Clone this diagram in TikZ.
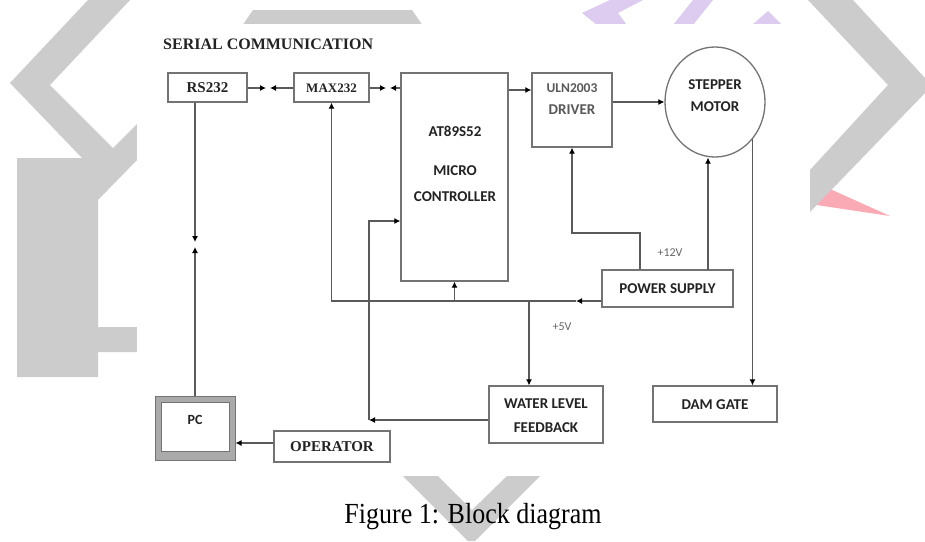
\documentclass[tikz,border=0pt]{standalone}
\usepackage{fontspec}
\setmainfont{Liberation Serif}
\newfontfamily\tms{Liberation Serif}
\newfontfamily\calib{Carlito}
\usetikzlibrary{arrows.meta,shapes.geometric,calc}
\definecolor{wm}{RGB}{204,204,204}
\definecolor{wmp}{RGB}{221,204,240}
\definecolor{wmr}{RGB}{250,170,180}
\definecolor{boxc}{RGB}{115,115,115}
\definecolor{lnc}{RGB}{90,90,90}
\definecolor{txt}{RGB}{35,35,35}
\definecolor{pcband}{RGB}{170,170,170}
\tikzset{
  blk/.style={draw=boxc, line width=1.3pt, fill=white, inner sep=0pt},
  ln/.style={draw=lnc, line width=1.1pt},
  arr/.style={ln, -{Latex[length=6pt,width=6pt,color=black]}},
  sflab/.style={font=\calib\bfseries\fontsize{15}{18}\selectfont, text=txt, inner sep=0pt},
  rmlab/.style={font=\tms\bfseries\fontsize{15}{18}\selectfont, text=txt, inner sep=0pt},
  vlab/.style={font=\calib\fontsize{12}{14}\selectfont, text=black!60, inner sep=0pt},
}
\begin{document}
\begin{tikzpicture}[x=1pt,y=-1pt]
\useasboundingbox (0,0) rectangle (925,541);
\fill[white] (0,0) rectangle (925,541);
% ---- watermark ----
\fill[wmr] (810,180) -- (890,216) -- (810,204) -- cycle;
\fill[wm] (88,0) -- (130,0) -- (50,85) -- (113,148) -- (137,124) -- (137,160) -- (98,200)
  -- (98,327) -- (137,327) -- (137,352) -- (98,352) -- (98,377) -- (17,377) -- (17,158)
  -- (82,158) -- (10,83) -- cycle;
\fill[wm] (808,0) -- (853,0) -- (925,78) -- (925,93) -- (810,212) -- (810,170) -- (888,85) -- cycle;
\fill[wm] (253,10) -- (412,10) -- (423,26) -- (242,26) -- cycle;
\fill[wm] (403,476) -- (438,476) -- (472,510) -- (507,476) -- (540,476) -- (475,541) -- (468,541) -- cycle;
\fill[wmp] (610,0) -- (643,0) -- (618,13) -- (627,25) -- (597,25) -- (582,13) -- cycle;
\fill[wmp] (693,0) -- (713,0) -- (693,25) -- (673,25) -- cycle;
\fill[wmp] (752,25) -- (768,11) -- (782,25) -- cycle;
\fill[white] (137,24) rectangle (808,476);
% ---- title ----
\node[anchor=west, font=\tms\bfseries\fontsize{16}{18}\selectfont, text=txt, inner sep=0pt] (title) at (163,44) {SERIAL COMMUNICATION};
% ---- blocks ----
\node[blk, minimum width=79pt, minimum height=29pt] (rs) at (207.5,87.5) {};
\node[rmlab] (rst) at (207.5,88) {RS232};
\node[blk, minimum width=75pt, minimum height=29pt] (max) at (331.5,87.5) {};
\node[rmlab, font=\tms\bfseries\fontsize{13}{15}\selectfont] (maxt) at (331.5,88) {MAX232};
\node[blk, minimum width=107pt, minimum height=208pt] (mcu) at (454.5,177) {};
\node[sflab] (mcu1) at (455,131) {AT89S52};
\node[sflab] (mcu2) at (455,171) {MICRO};
\node[sflab] (mcu3) at (455,197) {CONTROLLER};
\node[blk, minimum width=80pt, minimum height=74pt] (uln) at (572,110) {};
\node[sflab, font=\calib\bfseries\fontsize{13.5}{15}\selectfont, text=black!65] (uln1) at (572,88) {ULN2003};
\node[sflab, text=black!65] (uln2) at (572,110) {DRIVER};
\node[ellipse, draw=boxc, line width=1.3pt, fill=white, minimum width=100pt, minimum height=110pt, inner sep=0pt] (mot) at (715,102) {};
\node[sflab] (mot1) at (715,85) {STEPPER};
\node[sflab] (mot2) at (715,107) {MOTOR};
\node[blk, minimum width=131pt, minimum height=37pt] (ps) at (667.5,288.5) {};
\node[sflab] (pst) at (667.5,289) {POWER SUPPLY};
\node[blk, minimum width=114pt, minimum height=57pt] (wlf) at (546,414.5) {};
\node[sflab] (wlf1) at (546,404) {WATER LEVEL};
\node[sflab] (wlf2) at (546,428) {FEEDBACK};
\node[blk, minimum width=124pt, minimum height=36pt] (dam) at (715,404) {};
\node[sflab] (damt) at (715,404.5) {DAM GATE};
\node[draw=boxc, line width=1pt, fill=pcband, minimum width=80pt, minimum height=64pt, inner sep=0pt] (pc) at (195,428) {};
\node[draw=boxc, line width=1pt, fill=white, minimum width=68pt, minimum height=49pt, inner sep=0pt] (pcin) at (195,426.5) {};
\node[sflab, font=\calib\bfseries\fontsize{14}{16}\selectfont] (pct) at (195,420) {PC};
\node[blk, minimum width=116pt, minimum height=31pt] (op) at (332,446.5) {};
\node[rmlab] (opt) at (332,447) {OPERATOR};
\node[vlab] (v12) at (670,253) {+12V};
\node[vlab] (v5) at (562,327) {+5V};
% ---- junction coordinates ----
\coordinate (c1) at (266,88);
\coordinate (c2) at (270,88);
\coordinate (c3) at (386,88);
\coordinate (c4) at (390,88);
\coordinate (c5) at (195,242);
\coordinate (c6) at (195,247);
\coordinate (u1) at (508,90);
\coordinate (bA) at (576,301);
\coordinate (b5) at (529,301);
\coordinate (k1) at (640,233);
\coordinate (f1) at (369,420);
\coordinate (f2) at (369,221);
\coordinate (m1) at (708,270);
% ---- connectors ----
\draw[arr] (rs.east |- c1) -- (c1);
\draw[arr] (max.west |- c2) -- (c2);
\draw[arr] (max.east |- c3) -- (c3);
\draw[arr] (mcu.west |- c4) -- (c4);
\draw[arr] (mcu.east |- u1) -- (uln.west |- u1);
\draw[arr] (uln.east |- mot.west) -- (mot.west);
\draw[arr] (pc.north |- rs.south) -- (c5);
\draw[arr] (pc.north) -- (c6);
\draw[arr] ([yshift=-12.5pt]ps.west) -- (bA);
\draw[arr] (bA) -- (max.south |- bA) -- (max.south);
\draw[arr] (mcu.south |- bA) -- (mcu.south);
\draw[arr] (b5) -- (b5 |- wlf.north);
\draw[arr] (k1 |- ps.north) -- (k1) -- (k1 -| uln.south) -- (uln.south);
\draw[arr] (m1) -- (m1 |- mot.south);
\draw[arr] (mot.-45) -- (mot.-45 |- dam.north);
\draw[arr] (wlf.west |- f1) -- (f1);
\draw[arr] (f1) -- (f2) -- (mcu.west |- f2);
\draw[arr] (op.west |- 0,443) -- (pc.east |- 0,443);
% ---- caption ----
\node[font=\fontsize{26}{30}\selectfont, inner sep=0pt] (cap) at (473,517) {\scalebox{1}[1.12]{Figure 1: Block diagram}};
\end{tikzpicture}
\end{document}
